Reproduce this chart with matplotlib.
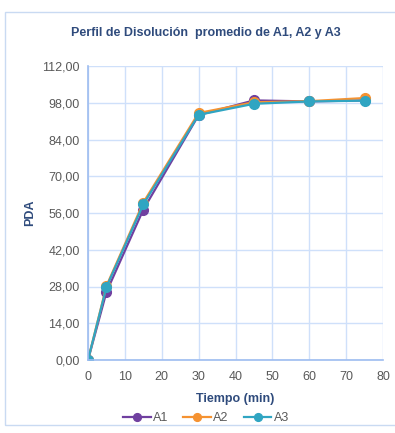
import matplotlib.pyplot as plt
from matplotlib.patches import Rectangle

tiempo = [0, 5, 15, 30, 45, 60, 75]
a1 = [0, 25.9, 57.3, 93.3, 98.9, 98.5, 98.9]
a2 = [0, 28.2, 60.0, 94.1, 98.2, 98.6, 99.8]
a3 = [0, 27.8, 59.3, 93.4, 97.6, 98.5, 98.8]
yticks = [0, 14, 28, 42, 56, 70, 84, 98, 112]
xticks = [0, 10, 20, 30, 40, 50, 60, 70, 80]

plt.rcParams['font.family'] = ['Liberation Sans', 'DejaVu Sans']

fig = plt.figure(figsize=(3.95, 4.33), dpi=100)
fig.patches.append(Rectangle((5 / 395, 8 / 433), 1, 1 - 20 / 433, transform=fig.transFigure,
                             fill=False, edgecolor='#c9daf2', linewidth=1))
ax = fig.add_axes([88 / 395, 1 - 360 / 433, 295 / 395, 294 / 433])

grid_c = '#cfe0fa'
axis_c = '#9dbcf0'
text_c = '#595959'
title_c = '#2f4b7c'

series = [(a1, 'A1', '#7040a0'), (a2, 'A2', '#f59231'), (a3, 'A3', '#30a5c2')]
for vals, name, col in series:
    ax.plot(tiempo, vals, color=col, marker='o', markersize=7, linewidth=1.6, label=name)

ax.set_xlim(0, 80)
ax.set_ylim(0, 112)
ax.set_xticks(xticks)
ax.set_yticks(yticks)
ax.set_yticklabels([f'{v:.2f}'.replace('.', ',') for v in yticks])
ax.grid(True, color=grid_c, linewidth=1)
ax.set_axisbelow(True)
for s in ['top', 'right']:
    ax.spines[s].set_visible(False)
for s in ['left', 'bottom']:
    ax.spines[s].set_color(axis_c)
    ax.spines[s].set_linewidth(1.2)
ax.tick_params(length=0, labelsize=9, colors=text_c, pad=6)
ax.tick_params(axis='x', pad=8)

ax.set_xlabel('Tiempo (min)', fontsize=9, fontweight='bold', color=title_c, labelpad=7)
ax.set_ylabel('PDA', fontsize=9, fontweight='bold', color=title_c, labelpad=4)
fig.text(0.5 + 8 / 395, 1 - 33 / 433, 'Perfil de Disolución  promedio de A1, A2 y A3',
         ha='center', va='center', fontsize=9, fontweight='bold', color=title_c)

ax.legend(loc='upper center', bbox_to_anchor=(0.40, -0.14), ncol=3, frameon=False,
          fontsize=9, handlelength=2.2, columnspacing=1.2, handletextpad=0.2,
          markerscale=0.8, labelcolor=text_c)

fig.savefig('out.png', dpi=100)
